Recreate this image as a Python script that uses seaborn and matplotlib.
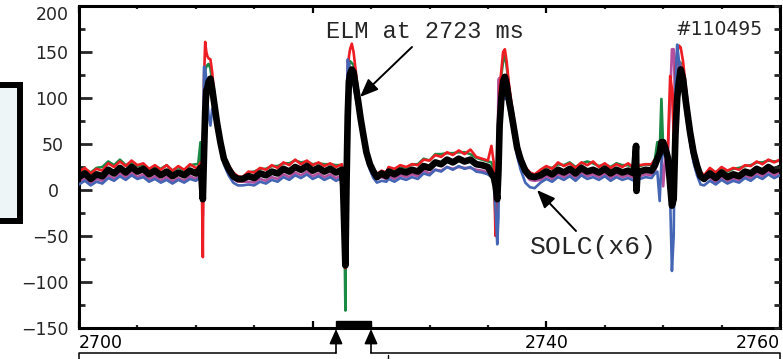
import matplotlib
matplotlib.use("Agg")
import matplotlib.pyplot as plt
import seaborn as sns
import numpy as np
import pandas as pd
from matplotlib.patches import Rectangle
from matplotlib.lines import Line2D
from matplotlib.transforms import ScaledTranslation

# ---------------- data ----------------
time_ms = [
    2700.0, 2700.5, 2701.0, 2701.5, 2702.0, 2702.5, 2703.0, 2703.5, 2704.0, 2704.5, 2705.0,
    2705.5, 2706.0, 2706.5, 2707.0, 2707.5, 2708.0, 2708.5, 2709.0, 2709.5, 2710.0,
    2710.2, 2710.4, 2710.5, 2710.6, 2710.7, 2710.8, 2710.9, 2711.0, 2711.1, 2711.25,
    2711.4, 2711.6, 2711.8, 2712.1, 2712.4, 2712.8, 2713.2, 2713.6, 2714.0,
    2714.5, 2715.0, 2715.5, 2716.0, 2716.5, 2717.0, 2717.5, 2718.0, 2718.5, 2719.0,
    2719.5, 2720.0, 2720.5, 2721.0, 2721.5, 2722.0, 2722.5,
    2722.6, 2722.7, 2722.8, 2722.9, 2723.0, 2723.1, 2723.2, 2723.35, 2723.5, 2723.7,
    2723.9, 2724.1, 2724.35, 2724.6, 2724.9, 2725.2, 2725.5, 2725.9, 2726.3,
    2726.5, 2727.0, 2727.5, 2728.0, 2728.5, 2729.0, 2729.5, 2730.0, 2730.5, 2731.0,
    2731.5, 2732.0, 2732.5, 2733.0, 2733.5, 2734.0, 2734.5, 2735.0,
    2735.3, 2735.5, 2735.65, 2735.8, 2735.9, 2736.0, 2736.15, 2736.3, 2736.45, 2736.6,
    2736.8, 2737.0, 2737.25, 2737.5, 2737.8, 2738.2, 2738.6, 2739.0,
    2739.5, 2740.0, 2740.5, 2741.0, 2741.5, 2742.0, 2742.5, 2743.0, 2743.5, 2744.0,
    2744.5, 2745.0, 2745.5, 2746.0, 2746.5, 2747.0, 2747.5,
    2747.68, 2747.72, 2747.8, 2748.0, 2748.5, 2749.0, 2749.3,
    2749.5, 2749.7, 2749.85, 2750.0, 2750.2, 2750.4, 2750.6, 2750.75, 2750.9, 2751.05,
    2751.2, 2751.35, 2751.5, 2751.7, 2751.95, 2752.3, 2752.6, 2752.9, 2753.2, 2753.5,
    2754.0, 2754.5, 2755.0, 2755.5, 2756.0, 2756.5, 2757.0, 2757.5, 2758.0, 2758.5,
    2759.0, 2759.5, 2760.0,
]

solc_black = [
    14, 18, 12, 17, 15, 22, 18, 24, 19, 25, 20, 23, 17, 21, 16, 20, 15, 19, 16, 21, 18,
    20, 24, 10, -10, 40, 85, 108, 112, 118, 121, 110, 92, 74, 52, 34, 23, 15, 12, 12,
    15, 13, 18, 16, 20, 18, 23, 20, 25, 22, 26, 21, 24, 20, 23, 19, 22,
    5, -40, -82, 10, 80, 118, 126, 131, 128, 112, 96, 78, 59, 41, 28, 20, 14, 18, 15,
    20, 17, 21, 19, 22, 20, 26, 24, 30, 28, 33, 30, 34, 31, 33, 28, 27, 25,
    18, 14, 5, -10, 20, 70, 100, 118, 123, 115, 98, 84, 65, 46, 33, 21, 15, 14,
    16, 20, 17, 22, 19, 23, 18, 24, 20, 22, 19, 23, 18, 22, 19, 21, 18,
    48, -1, 18, 20, 22, 21, 27,
    34, 40, 52, 52, 45, 35, 5, -17, -10, 60, 100, 118, 131, 121, 95, 63, 41, 26, 15, 12,
    18, 13, 19, 14, 17, 15, 20, 18, 23, 20, 25, 21, 24,
]

solc_red = [
    20, 24, 18, 23, 21, 29, 25, 31, 26, 32, 27, 29, 23, 27, 22, 27, 21, 26, 22, 28, 24,
    25, 30, 20, -73, 120, 161, 150, 145, 143, 142, 128, 100, 80, 58, 38, 27, 19, 15, 14,
    20, 19, 24, 22, 27, 24, 30, 27, 33, 28, 32, 27, 30, 26, 29, 25, 28,
    10, -30, -85, 20, 110, 145, 153, 159, 150, 128, 104, 84, 64, 45, 32, 23, 17, 21, 19,
    25, 23, 27, 25, 28, 27, 33, 32, 38, 36, 41, 38, 43, 39, 44, 36, 34, 32,
    48, 30, -50, -20, 40, 110, 130, 150, 153, 140, 115, 96, 74, 54, 38, 25, 19, 17,
    22, 26, 23, 30, 26, 29, 24, 30, 27, 31, 25, 29, 24, 28, 25, 29, 24,
    26, 25, 25, 27, 28, 28, 33,
    30, 35, 45, 50, 48, 45, 124, 110, 60, 130, 150, 157, 155, 140, 110, 72, 48, 32, 20, 16,
    24, 19, 25, 21, 24, 22, 27, 26, 31, 28, 33, 30, 33,
]

solc_green = [
    19, 23, 19, 24, 25, 31, 27, 33, 27, 30, 26, 28, 22, 26, 23, 27, 21, 25, 21, 27, 28,
    28, 52, -12, 20, 90, 130, 134, 136, 137, 132, 118, 96, 76, 54, 36, 25, 17, 13, 12,
    19, 20, 23, 23, 26, 26, 29, 29, 32, 30, 31, 28, 29, 28, 28, 27, 27,
    8, -20, -131, 80, 100, 135, 140, 138, 136, 118, 100, 80, 61, 43, 30, 22, 16, 20, 17,
    24, 22, 26, 24, 28, 28, 34, 32, 39, 39, 40, 40, 41, 41, 39, 35, 33, 31,
    30, 22, -30, -46, 30, 100, 125, 140, 146, 135, 112, 93, 72, 52, 36, 24, 18, 16,
    21, 25, 24, 28, 27, 30, 25, 29, 31, 29, 26, 28, 25, 29, 27, 27, 24,
    25, 24, 25, 26, 28, 27, 34,
    52, 40, 99, 45, 40, 30, 25, 20, 40, 110, 135, 140, 138, 128, 100, 68, 44, 28, 17, 14,
    23, 19, 24, 20, 23, 24, 26, 27, 30, 30, 32, 31, 32,
]

solc_blue = [
    6, 10, 5, 9, 7, 13, 10, 15, 11, 16, 12, 14, 9, 12, 8, 11, 7, 11, 8, 12, 10,
    12, 15, 8, 30, 134, 132, 120, 95, 80, 70, 88, 80, 66, 46, 28, 16, 8, 5, 5,
    6, 5, 9, 7, 11, 9, 14, 11, 16, 13, 17, 12, 15, 11, 14, 10, 13,
    6, -35, -40, 40, 142, 138, 128, 120, 115, 100, 86, 70, 52, 35, 22, 13, 8, 10, 9,
    12, 9, 13, 11, 14, 12, 18, 16, 22, 20, 25, 22, 26, 23, 25, 20, 19, 17,
    14, 10, -20, -59, -30, 80, 115, 105, 99, 100, 88, 74, 56, 37, 22, 8, 3, 2,
    8, 12, 9, 14, 11, 15, 10, 16, 12, 14, 11, 15, 10, 14, 11, 13, 10,
    12, 11, 11, 12, 14, 13, 18,
    20, -12, 30, 42, 38, 30, -10, -88, -50, 120, 158, 140, 125, 110, 82, 52, 30, 16, 6, 5,
    10, 6, 11, 7, 10, 8, 13, 10, 15, 12, 17, 13, 16,
]

solc_magenta = [
    9, 12, 7, 12, 10, 16, 12, 18, 14, 19, 14, 17, 11, 15, 10, 14, 9, 13, 10, 15, 12,
    15, 18, 5, -28, 60, 125, 118, 110, 110, 112, 105, 88, 70, 50, 32, 20, 12, 9, 9,
    9, 8, 12, 10, 14, 12, 17, 14, 19, 16, 20, 15, 18, 14, 17, 13, 16,
    8, -57, -45, 30, 140, 136, 130, 125, 120, 106, 90, 73, 55, 38, 25, 17, 12, 14, 12,
    15, 12, 16, 14, 17, 15, 21, 18, 22, 21, 25, 23, 25, 24, 24, 22, 21, 19,
    16, 12, 0, -20, 120, 122, 118, 112, 110, 104, 90, 77, 60, 42, 28, 17, 11, 10,
    11, 15, 12, 17, 14, 18, 13, 19, 15, 17, 14, 18, 13, 17, 14, 16, 13,
    14, 13, 13, 15, 17, 16, 21,
    30, 35, 40, 4, 38, 40, 100, 153, 153, 90, 130, 140, 135, 125, 98, 66, 43, 28, 17, 13,
    13, 8, 14, 10, 12, 11, 15, 13, 18, 15, 20, 16, 19,
]

x_major_ticks = [2700, 2720, 2740, 2760]
x_tick_labels = ["2700", "", "2740", "2760"]
y_major_ticks = [-150, -100, -50, 0, 50, 100, 150, 200]
y_tick_labels = ["\u2212150", "\u2212100", "\u221250", "0", "50", "100", "150", "200"]

# ---------------- figure ----------------
sns.set_style("white")
plt.rcParams["font.family"] = ["DejaVu Sans"]

W, H = 783, 359
fig = plt.figure(figsize=(W / 100, H / 100), dpi=100)


def fx(px):
    return px / W


def fy(py):
    return 1 - py / H


ax = fig.add_axes([fx(79), fy(328), (780 - 79) / W, (328 - 6) / H])

df = pd.DataFrame({
    "t": time_ms,
    "green": solc_green,
    "magenta": solc_magenta,
    "blue": solc_blue,
    "red": solc_red,
    "black": solc_black,
})

styles = [
    ("green", "#1b8a45", 1.9, 2),
    ("magenta", "#b5509f", 1.9, 2),
    ("blue", "#4565b5", 1.9, 3),
    ("red", "#ee1d24", 1.9, 2),
    ("black", "#000000", 4.8, 5),
]
for col, colr, lw, z in styles:
    sns.lineplot(data=df, x="t", y=col, ax=ax, color=colr, linewidth=lw,
                 estimator=None, sort=False, zorder=z)

ax.set_xlabel("")
ax.set_ylabel("")
ax.set_xlim(2700, 2760)
ax.set_ylim(-150, 200)

for s in ax.spines.values():
    s.set_linewidth(2.2)
    s.set_color("black")

ax.set_xticks(x_major_ticks)
ax.set_xticks(np.arange(2700, 2761, 5), minor=True)
ax.set_xticklabels(x_tick_labels)
ax.set_yticks(y_major_ticks)
ax.set_yticks(np.arange(-150, 201, 25), minor=True)
ax.set_yticklabels(y_tick_labels)

ax.tick_params(axis="x", which="major", direction="in", length=5, width=1.6,
               top=True, bottom=True, pad=4.5, labelsize=12.5, colors="black")
ax.tick_params(axis="x", which="minor", direction="in", length=2.5, width=1.6,
               top=True, bottom=True)
ax.tick_params(axis="y", which="major", direction="in", length=9.4, width=2,
               left=True, right=False, pad=7.5, labelsize=12.5)
ax.tick_params(axis="y", which="minor", direction="in", length=4.3, width=2,
               left=True, right=False)

xl = ax.get_xticklabels()
xl[0].set_ha("left")
xl[-1].set_ha("right")

for lab in ax.get_yticklabels():
    txt = lab.get_text()
    if txt == "200":
        lab.set_va("top")
    if txt == "0":
        lab.set_transform(lab.get_transform() + ScaledTranslation(-0.10, 0, fig.dpi_scale_trans))
    if txt == "50":
        lab.set_transform(lab.get_transform() + ScaledTranslation(-0.05, 0, fig.dpi_scale_trans))

ax2 = ax.twinx()
ax2.set_ylim(-150, 200)
ax2.set_yticks(np.arange(-150, 201, 25))
ax2.tick_params(axis="y", direction="in", length=4.5, width=2, right=True,
                labelright=False)
for s in ax2.spines.values():
    s.set_visible(False)

# black bar at the bottom (ELM time window)
ax.add_patch(Rectangle((2722.0, -150), 3.0, 8, facecolor="black",
                       edgecolor="black", clip_on=False, zorder=6))

# ---------------- annotations ----------------
fig.text(fx(425), fy(38), "ELM at 2723 ms", family="Liberation Mono",
         fontsize=17, ha="center", va="baseline")
fig.text(fx(763), fy(35), "#110495", fontsize=13.5, ha="right", va="baseline")
fig.text(fx(530), fy(254), "SOLC(x6)", family="Liberation Mono",
         fontsize=19, ha="left", va="baseline")

arrow_kw = dict(arrowstyle="-|>,head_length=1.1,head_width=0.45", color="black",
                lw=1.4, shrinkA=0, shrinkB=0)
ax.annotate("", xy=(fx(360), fy(97)), xycoords="figure fraction",
            xytext=(fx(412), fy(47)), textcoords="figure fraction",
            arrowprops=arrow_kw, annotation_clip=False)
ax.annotate("", xy=(fx(537), fy(190)), xycoords="figure fraction",
            xytext=(fx(576), fy(231)), textcoords="figure fraction",
            arrowprops=arrow_kw, annotation_clip=False)

up_kw = dict(arrowstyle="-|>,head_length=0.9,head_width=0.4", color="black",
             lw=1.2, shrinkA=0, shrinkB=0)
for xp in (336, 371):
    ax.annotate("", xy=(fx(xp), fy(329)), xycoords="figure fraction",
                xytext=(fx(xp), fy(353)), textcoords="figure fraction",
                arrowprops=up_kw, annotation_clip=False)

fig.add_artist(Line2D([fx(79), fx(79), fx(336)], [fy(362), fy(353), fy(353)],
                      transform=fig.transFigure, color="black", lw=1.1))
fig.add_artist(Line2D([fx(371), fx(780), fx(780)], [fy(353), fy(353), fy(362)],
                      transform=fig.transFigure, color="black", lw=1.1))
fig.add_artist(Line2D([fx(388), fx(388)], [fy(355), fy(362)],
                      transform=fig.transFigure, color="black", lw=1.0))

# left partial box
fig.add_artist(Rectangle((fx(-10), fy(221)), (20 + 10) / W, (221 - 85.5) / H,
                         transform=fig.transFigure, facecolor="#edf5f7",
                         edgecolor="black", lw=4.3))

fig.savefig("out.png", dpi=100)
